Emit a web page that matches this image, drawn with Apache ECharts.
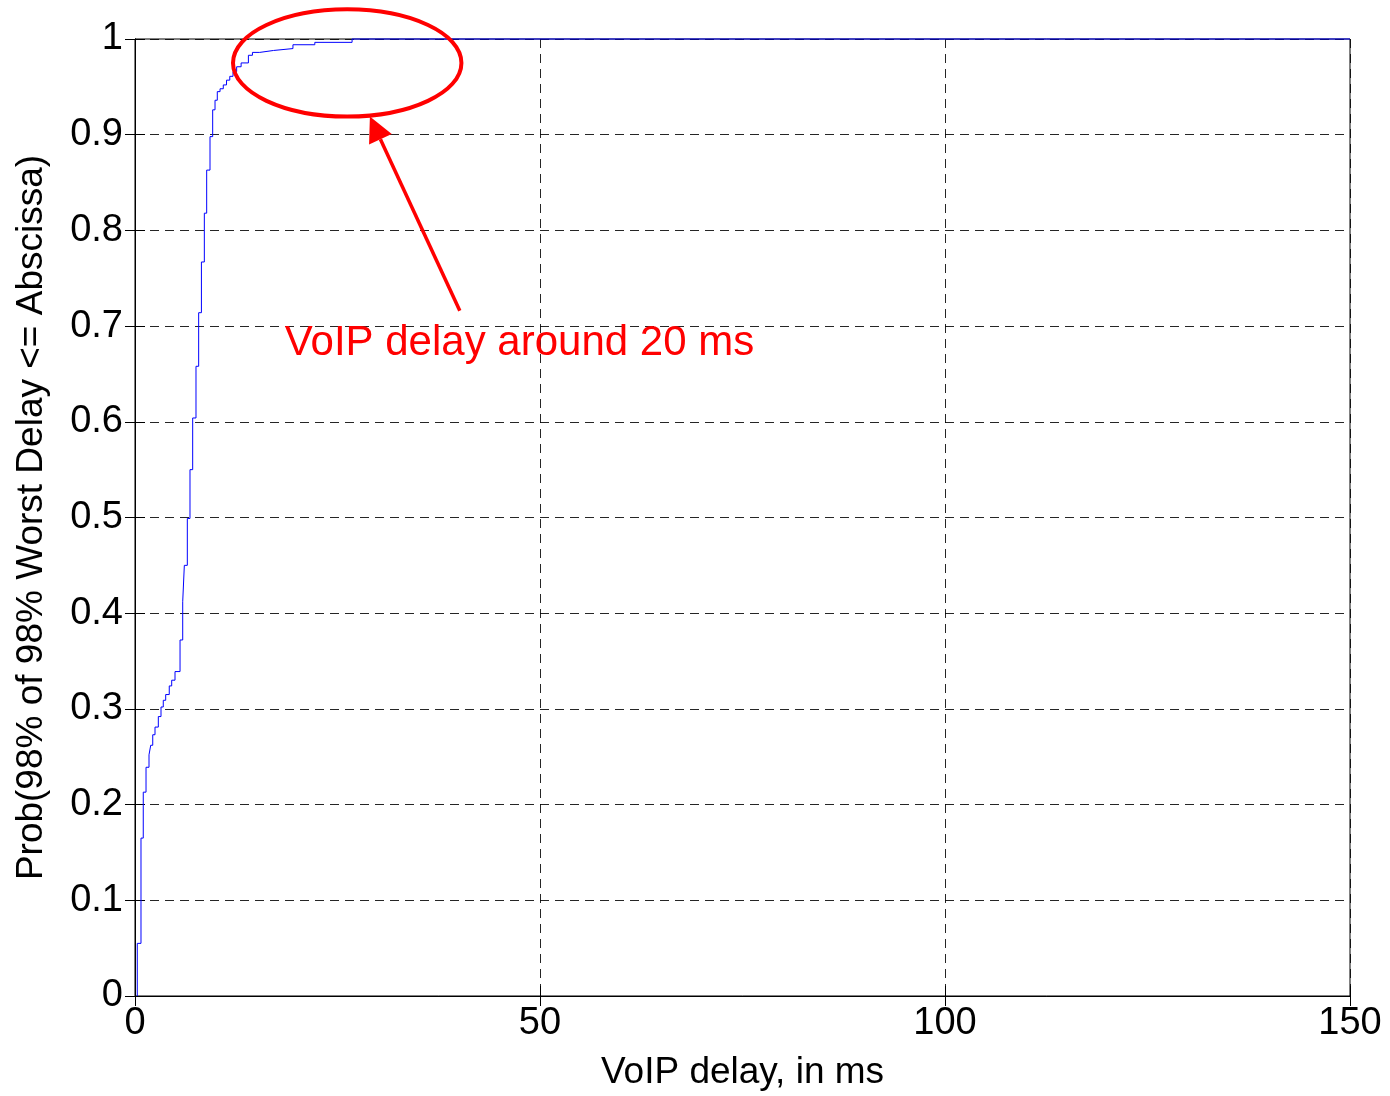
<!DOCTYPE html>
<html>
<head>
<meta charset="utf-8">
<script src="https://cdn.jsdelivr.net/npm/echarts@6/dist/echarts.min.js"></script>
<style>html,body{margin:0;padding:0;background:#fff;}#main{width:1390px;height:1096px;}</style>
</head>
<body>
<div id="main"></div>
<script>
// Step points of the empirical CDF (delay in ms, cumulative probability)
const delayMs = [0.28, 0.28, 0.74, 1.02, 1.36, 1.73, 1.94, 2.19, 2.47, 2.88, 3.21, 3.49, 3.79, 4.23, 4.53, 4.94, 5.56, 5.89, 6.09, 6.46, 6.79, 7.12, 7.53, 7.86, 8.2, 8.56, 8.85, 9.26, 9.59, 9.88, 10.16, 10.5, 10.9, 11.3, 11.7, 12.1, 12.55, 13.1, 14.0, 14.5, 15.4, 17.1, 19.5, 22.2, 26.8, 150];
const cumProb = [0, 0.055, 0.165, 0.213, 0.239, 0.252, 0.262, 0.273, 0.281, 0.292, 0.302, 0.309, 0.315, 0.324, 0.330, 0.339, 0.372, 0.412, 0.450, 0.499, 0.550, 0.604, 0.658, 0.714, 0.767, 0.818, 0.863, 0.898, 0.926, 0.936, 0.945, 0.948, 0.952, 0.957, 0.961, 0.966, 0.971, 0.975, 0.983, 0.986, 0.988, 0.990, 0.994, 0.9965, 1.0, 1.0];
const xTicks = [0, 50, 100, 150];
const yTicks = [0, 0.1, 0.2, 0.3, 0.4, 0.5, 0.6, 0.7, 0.8, 0.9, 1];

// Annotation (in data coordinates)
const annotText = 'VoIP delay around 20 ms';
const annotTextPos = [18.5, 0.682];
const ellipseCenter = [26.2, 0.975];
const ellipseRadii = [14.1, 0.056];
const arrowTail = [40.1, 0.716];
const arrowTip = [29.0, 0.919];

const FONT = "'Liberation Sans', Arial, Helvetica, sans-serif";
const chart = echarts.init(document.getElementById('main'), null, {renderer: 'canvas'});

const splitStyle = {show: true, lineStyle: {color: '#000', width: 1, type: [9, 6], opacity: 0.85}};
const option = {
  animation: false,
  backgroundColor: '#fff',
  grid: {left: 135, right: 40, top: 39, bottom: 100, show: true, borderColor: '#000', borderWidth: 1, backgroundColor: 'transparent'},
  xAxis: [{
    type: 'value', min: xTicks[0], max: xTicks[xTicks.length - 1], interval: 50,
    name: 'VoIP delay, in ms', nameLocation: 'middle', nameGap: 58,
    nameTextStyle: {fontFamily: FONT, fontSize: 37, color: '#000'},
    axisLine: {show: true, onZero: false, lineStyle: {color: '#000', width: 1}},
    axisTick: {show: true, inside: true, length: 10, lineStyle: {color: '#000'}},
    axisLabel: {fontFamily: FONT, fontSize: 38, color: '#000', margin: 9},
    splitLine: splitStyle
  }, {
    type: 'value', position: 'top', min: 0, max: 150, interval: 50,
    axisLine: {show: true, lineStyle: {color: '#000'}},
    axisTick: {show: true, inside: true, length: 10, lineStyle: {color: '#000'}},
    axisLabel: {show: false}, splitLine: {show: false}
  }],
  yAxis: [{
    type: 'value', min: yTicks[0], max: yTicks[yTicks.length - 1], interval: 0.1,
    name: 'Prob(98% of 98% Worst Delay <= Abscissa)', nameLocation: 'middle', nameGap: 85,
    nameTextStyle: {fontFamily: FONT, fontSize: 37, color: '#000'},
    axisLine: {show: true, onZero: false, lineStyle: {color: '#000', width: 1}},
    axisTick: {show: true, inside: true, length: 10, lineStyle: {color: '#000'}},
    axisLabel: {fontFamily: FONT, fontSize: 38, color: '#000', margin: 12,
      formatter: v => String(Math.round(v * 10) / 10)},
    splitLine: splitStyle
  }, {
    type: 'value', position: 'right', min: 0, max: 1, interval: 0.1,
    axisLine: {show: true, lineStyle: {color: '#000'}},
    axisTick: {show: true, inside: true, length: 10, lineStyle: {color: '#000'}},
    axisLabel: {show: false}, splitLine: {show: false}
  }],
  series: [{
    type: 'line', step: 'end', showSymbol: false, clip: false, z: 5,
    lineStyle: {color: '#0000ff', width: 1},
    data: delayMs.map((d, i) => [d, cumProb[i]])
  }]
};
chart.setOption(option);

// Annotation graphics placed through the axis scales
const px = p => chart.convertToPixel({gridIndex: 0}, p);
const c = px(ellipseCenter);
const e = px([ellipseCenter[0] + ellipseRadii[0], ellipseCenter[1] - ellipseRadii[1]]);
const tail = px(arrowTail), tip = px(arrowTip);
const dx = tip[0] - tail[0], dy = tip[1] - tail[1], L = Math.hypot(dx, dy);
const ux = dx / L, uy = dy / L;
const headLen = 25, headHalf = 12.5;
const base = [tip[0] - ux * headLen, tip[1] - uy * headLen];
const tp = px(annotTextPos);
chart.setOption({
  graphic: [
    {type: 'ellipse', shape: {cx: c[0], cy: c[1], rx: e[0] - c[0], ry: e[1] - c[1]},
     style: {fill: 'none', stroke: '#ff0000', lineWidth: 4}, z: 10},
    {type: 'line', shape: {x1: tail[0], y1: tail[1], x2: base[0], y2: base[1]},
     style: {stroke: '#ff0000', lineWidth: 3.5}, z: 10},
    {type: 'polygon', shape: {points: [tip, [base[0] - uy * headHalf, base[1] + ux * headHalf], [base[0] + uy * headHalf, base[1] - ux * headHalf]]},
     style: {fill: '#ff0000'}, z: 10},
    {type: 'text', x: tp[0], y: tp[1],
     style: {text: annotText, fill: '#ff0000', font: '42px ' + FONT, verticalAlign: 'middle', align: 'left'}, z: 10}
  ]
});
</script>
</body>
</html>
